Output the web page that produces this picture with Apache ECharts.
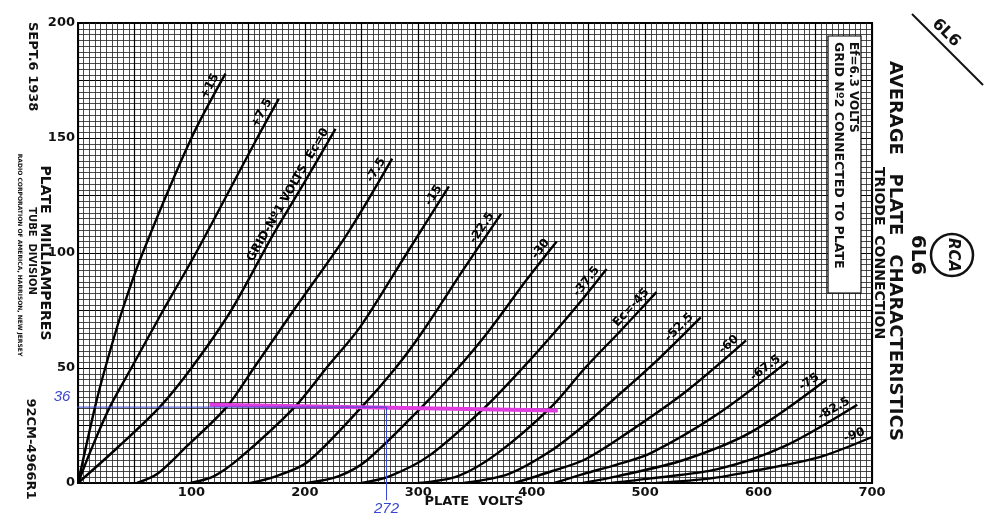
<!DOCTYPE html>
<html>
<head>
<meta charset="utf-8">
<script src="https://cdn.jsdelivr.net/npm/echarts@6/dist/echarts.min.js"></script>
<style>
  html, body { margin: 0; padding: 0; background: #fff; }
  #chart { width: 1000px; height: 528px; }
</style>
</head>
<body>
<div id="chart"></div>
<script>
// plate curves, [plate volts, plate mA]
const ecPlus15 = [[0, 0], [15, 33], [24, 50], [39, 75], [57, 100], [100, 150], [130, 178]]
const ecPlus7 = [[0, 0], [12, 15], [28, 33], [47, 50], [75, 75], [104, 100], [158, 150], [177, 167]]
const ecZero = [[0, 0], [34, 15], [72, 33], [100, 50], [135, 75], [172, 108], [200, 131], [227, 154]]
const ecMinus7 = [[52, 0], [70, 4], [96, 16], [131, 33], [155, 50], [190, 75], [237, 108], [277, 141]]
const ecMinus15 = [[99, 0], [120, 3], [143, 11], [191, 33], [219, 50], [249, 68], [290, 100], [327, 129]]
const ecMinus22 = [[152, 0], [175, 3], [202, 9], [250, 33], [280, 50], [304, 66], [340, 93], [373, 117]]
const ecMinus30 = [[202, 0], [230, 3], [255, 10], [303, 33], [335, 50], [362, 66], [395, 88], [422, 105]]
const ecMinus37 = [[250, 0], [275, 3], [310, 12], [359, 33], [392, 50], [421, 66], [445, 80], [466, 93]]
const ecMinus45 = [[300, 0], [335, 3], [370, 13], [417, 33], [447, 50], [478, 66], [510, 83]]
const ecMinus52 = [[340, 0], [380, 4], [417, 14], [446, 25], [476, 38], [512, 54], [549, 72]]
const ecMinus60 = [[385, 0], [417, 5], [446, 10], [476, 19], [534, 39], [589, 62]]
const ecMinus67 = [[420, 0], [446, 4], [475, 8], [505, 13], [564, 30], [626, 53]]
const ecMinus75 = [[445, 0], [476, 3], [534, 10], [593, 22], [660, 45]]
const ecMinus82 = [[470, 0], [505, 2], [564, 6], [623, 16], [687, 34]]
const ecMinus90 = [[510, 0], [558, 2], [593, 5], [652, 11], [700, 20]]

const curves = [ecPlus15, ecPlus7, ecZero, ecMinus7, ecMinus15, ecMinus22, ecMinus30, ecMinus37,
  ecMinus45, ecMinus52, ecMinus60, ecMinus67, ecMinus75, ecMinus82, ecMinus90]
const curveLabels = ['+15', '+7.5', 'GRID-Nº1 VOLTS  Ec=0', '-7.5', '-15', '-22.5', '-30', '-37.5',
  'Ec=-45', '-52.5', '-60', '-67.5', '-75', '-82.5', '-90']

// hand-drawn marks on the scan
const blueReadout = [[-14, 33], [272, 33], [272, -7.5]]
const blueLabels = ['36', '272']
const pinkLoad = [[116, 34], [423, 31.5]]

const chart = echarts.init(document.getElementById('chart'))

const tickFont = { color: '#111', fontSize: 13, fontWeight: 'bold', fontFamily: 'DejaVu Sans' }

chart.setOption({
  animation: false,
  backgroundColor: '#fff',
  grid: { left: 78, right: 128, top: 23, bottom: 45, show: true, borderColor: '#000', borderWidth: 2 },
  xAxis: {
    type: 'value', min: 0, max: 700, interval: 50,
    axisLine: { show: false }, axisTick: { show: false },
    axisLabel: { ...tickFont, margin: 3, formatter: v => (v % 100 === 0 && v > 0 ? String(v) : '') },
    splitLine: { show: true, lineStyle: { color: '#000', width: 1.2 } },
    minorTick: { show: false, splitNumber: 10 },
    minorSplitLine: { show: true, lineStyle: { color: '#2a2a2a', width: 0.85 } },
  },
  yAxis: {
    type: 'value', min: 0, max: 200, interval: 25,
    axisLine: { show: false }, axisTick: { show: false },
    axisLabel: { ...tickFont, margin: 3, formatter: v => (v % 50 === 0 ? String(v) : '') },
    splitLine: { show: true, lineStyle: { color: '#000', width: 1.2 } },
    minorTick: { show: false, splitNumber: 10 },
    minorSplitLine: { show: true, lineStyle: { color: '#2a2a2a', width: 0.85 } },
  },
  series: [
    ...curves.map((pts, i) => ({
      type: 'line',
      name: curveLabels[i],
      data: pts,
      smooth: 0.3,
      showSymbol: false,
      silent: true,
      lineStyle: { color: '#000', width: 2.4 },
      z: 3,
    })),
    {
      type: 'line',
      name: 'load',
      data: pinkLoad,
      showSymbol: false,
      silent: true,
      lineStyle: { color: '#e03ce0', width: 4 },
      z: 4,
    },
    {
      type: 'line',
      name: 'readout',
      clip: false,
      silent: true,
      symbol: 'circle',
      symbolSize: 0,
      showSymbol: true,
      lineStyle: { color: '#3846d0', width: 1 },
      itemStyle: { color: '#3846d0' },
      data: blueReadout.map((p, i) => {
        if (i === 0) return { value: p, label: { show: true, position: 'top', distance: 3, formatter: blueLabels[0] } }
        if (i === blueReadout.length - 1) return { value: p, label: { show: true, position: 'bottom', distance: 1, formatter: blueLabels[1] } }
        return p
      }),
      label: { color: '#3846d0', fontSize: 15, fontStyle: 'italic', fontFamily: 'Liberation Sans' },
      z: 5,
    },
  ],
})

// curve names written along each curve, just short of its end
const curveTexts = curves.map((pts, i) => {
  const p1 = chart.convertToPixel({ gridIndex: 0 }, pts[pts.length - 1])
  const p0 = chart.convertToPixel({ gridIndex: 0 }, pts[pts.length - 2])
  const a = Math.atan2(p0[1] - p1[1], p1[0] - p0[0])
  const gap = 5, off = 2
  return {
    type: 'text',
    x: p1[0] - Math.cos(a) * gap - Math.sin(a) * off,
    y: p1[1] + Math.sin(a) * gap - Math.cos(a) * off,
    rotation: a,
    silent: true,
    z: 10,
    style: {
      text: curveLabels[i], align: 'right', verticalAlign: 'bottom',
      fill: '#000', fontSize: 12, fontWeight: 'bold', fontFamily: 'DejaVu Sans',
    },
  }
})

function vtext(text, x, y, size, align) {
  return {
    type: 'text', x, y, rotation: -Math.PI / 2, silent: true, z: 10,
    style: {
      text, align: align || 'center', verticalAlign: 'middle',
      fill: '#111', fontSize: size, fontWeight: 'bold', fontFamily: 'DejaVu Sans',
    },
  }
}

const decor = [
  // left margin
  vtext('SEPT.6 1938', 32, 22, 13, 'left'),
  vtext('PLATE  MILLIAMPERES', 45, 253, 14),
  vtext('TUBE  DIVISION', 32, 251, 10),
  vtext('RADIO CORPORATION OF AMERICA, HARRISON, NEW JERSEY', 20, 255, 6),
  vtext('92CM-4966R1', 30, 449, 13),
  // bottom
  { type: 'text', x: 474, y: 502, silent: true, style: { text: 'PLATE  VOLTS', align: 'center', verticalAlign: 'middle', fill: '#111', fontSize: 13, fontWeight: 'bold', fontFamily: 'DejaVu Sans' } },
  // note box
  { type: 'rect', shape: { x: 828, y: 36, width: 33, height: 257 }, silent: true, z: 8, style: { fill: '#fff', stroke: '#000', lineWidth: 1.2 } },
  vtext('Ef=6.3 VOLTS', 853, 42, 12, 'left'),
  vtext('GRID Nº2 CONNECTED TO PLATE', 838, 42, 12.5, 'left'),
  // title block
  vtext('AVERAGE   PLATE   CHARACTERISTICS', 895, 251, 18),
  vtext('TRIODE  CONNECTION', 879, 253, 14),
  vtext('6L6', 917, 255, 20),
  { type: 'circle', shape: { cx: 952, cy: 255, r: 21 }, silent: true, style: { fill: 'none', stroke: '#111', lineWidth: 2.5 } },
  { type: 'text', x: 953, y: 255, rotation: -Math.PI / 2, silent: true, style: { text: 'RCA', align: 'center', verticalAlign: 'middle', fill: '#111', fontSize: 15, fontWeight: 'bold', fontStyle: 'italic', fontFamily: 'DejaVu Sans' } },
  // corner tab
  { type: 'line', shape: { x1: 912, y1: 14, x2: 983, y2: 85 }, silent: true, style: { stroke: '#111', lineWidth: 2 } },
  { type: 'text', x: 946, y: 33, rotation: -Math.PI / 4, silent: true, style: { text: '6L6', align: 'center', verticalAlign: 'middle', fill: '#111', fontSize: 16, fontWeight: 'bold', fontFamily: 'DejaVu Sans' } },
]

chart.setOption({ graphic: [...decor, ...curveTexts] })
</script>
</body>
</html>
